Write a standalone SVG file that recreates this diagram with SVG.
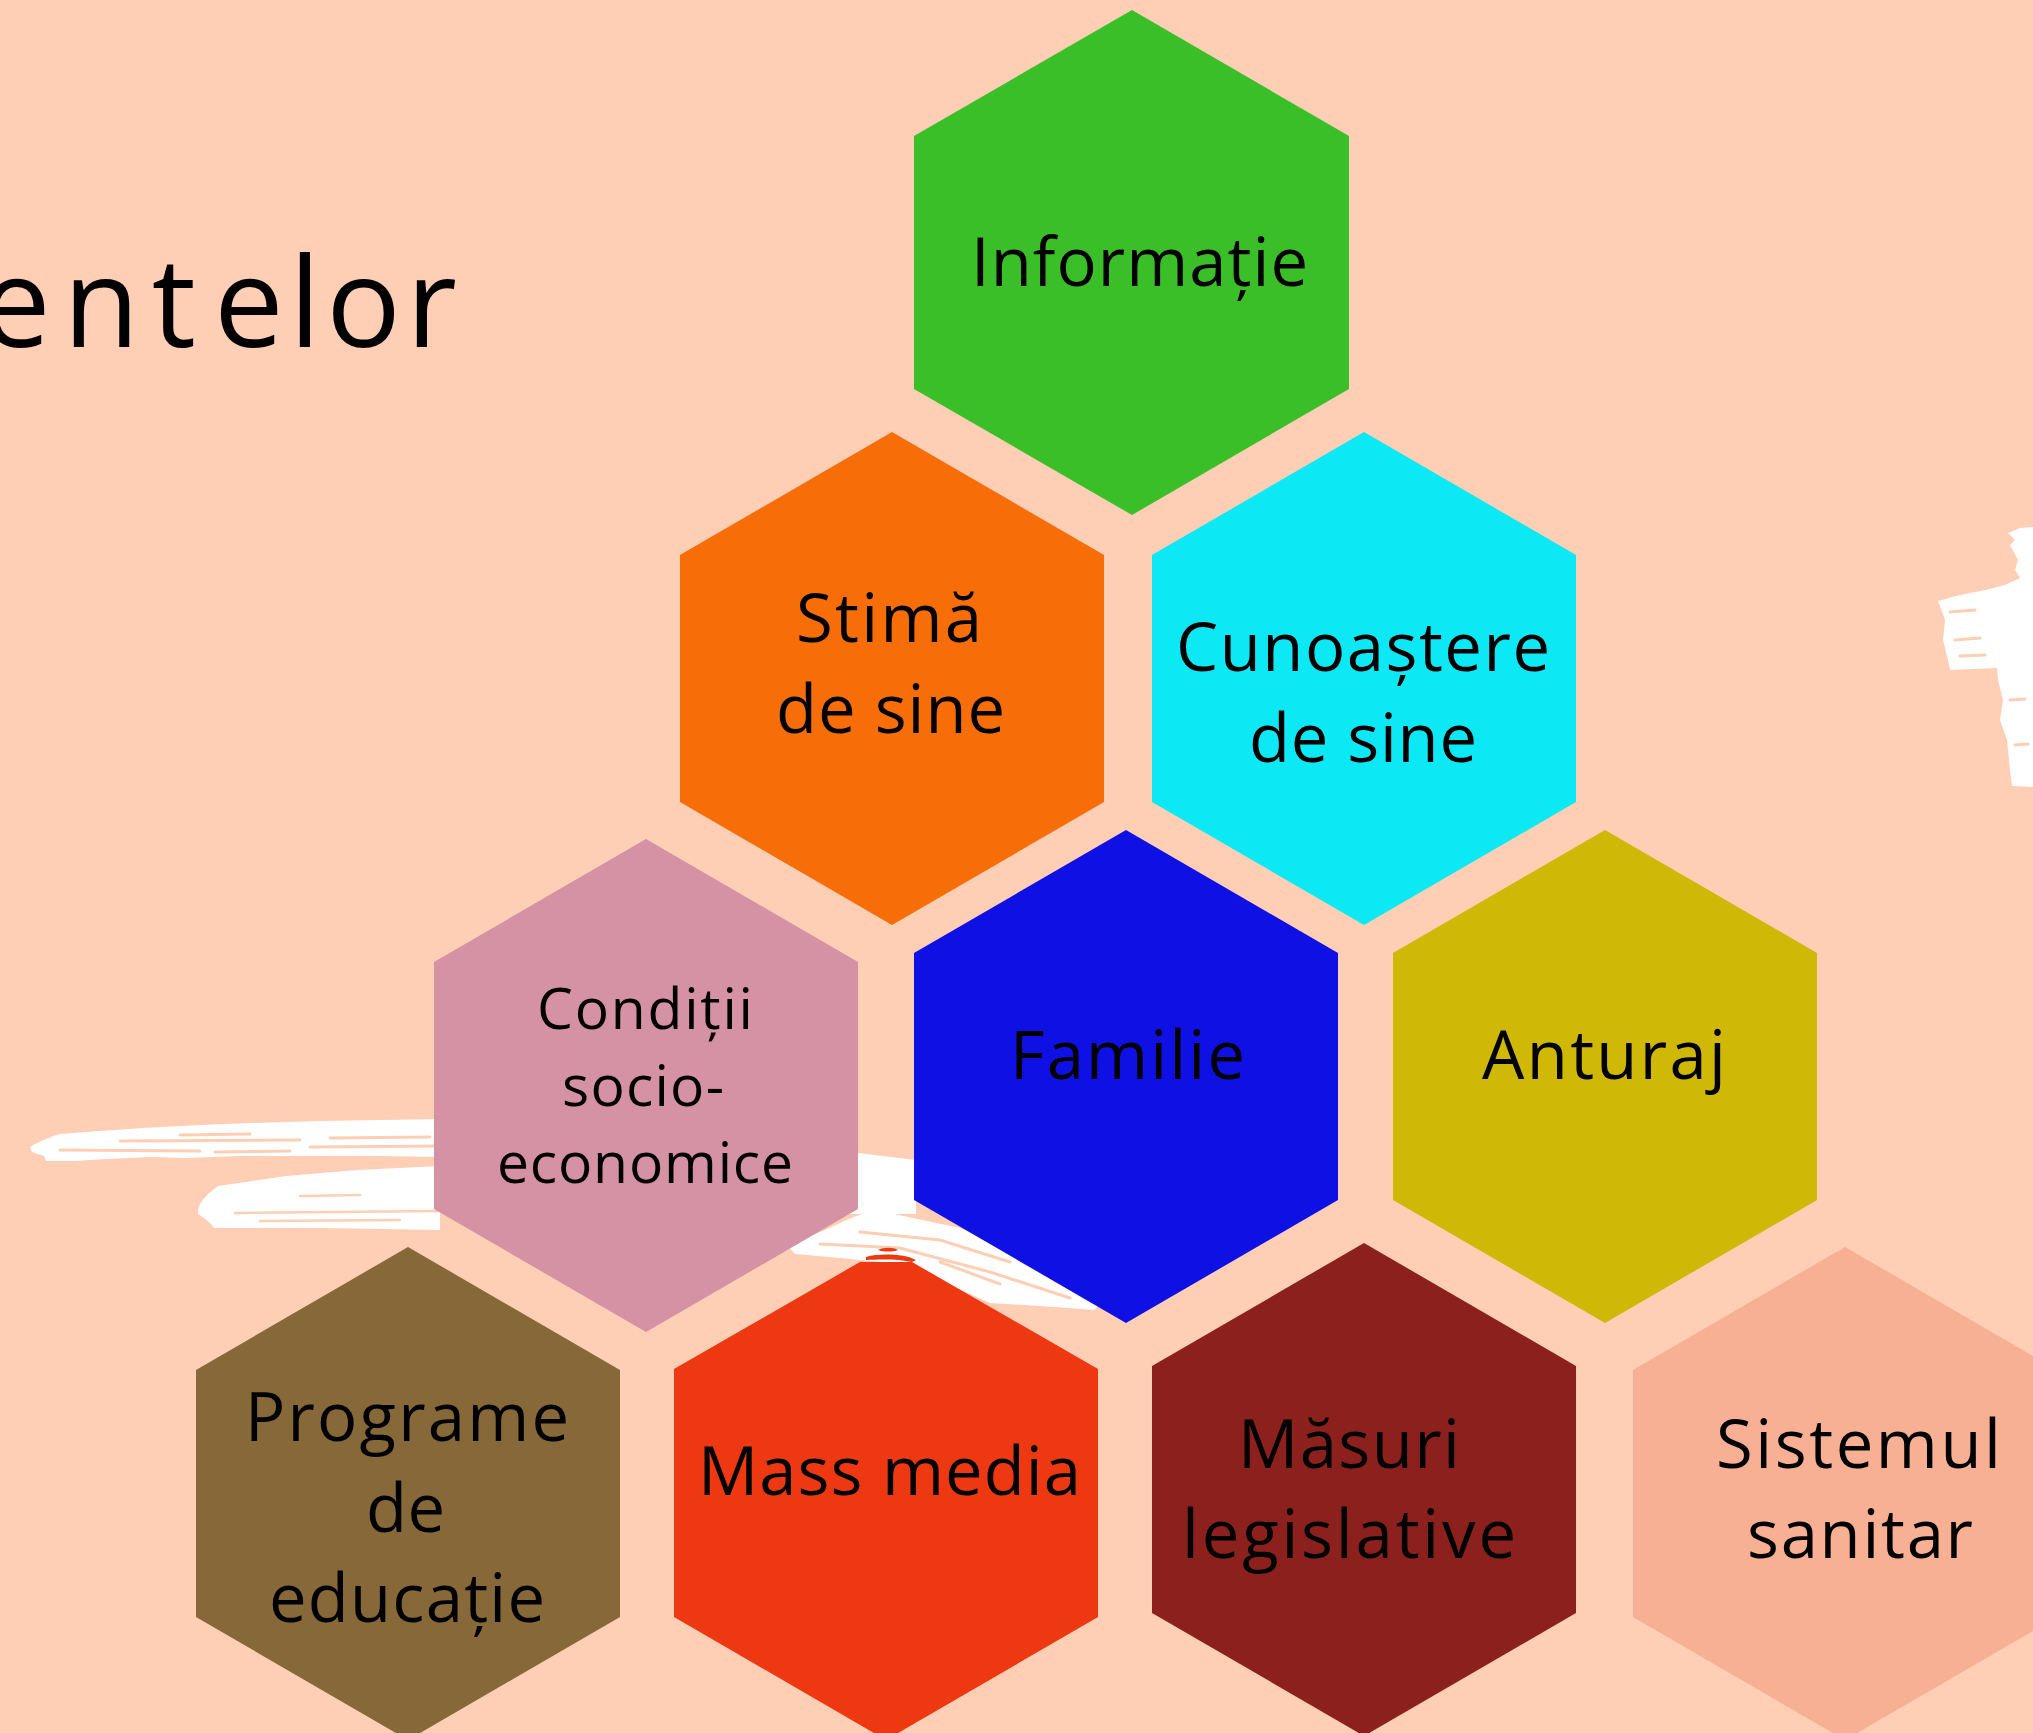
<svg xmlns="http://www.w3.org/2000/svg" width="2033" height="1733" viewBox="0 0 2033 1733">
<style>
.lbl{font-family:"Open Sans","Noto Sans","Liberation Sans",sans-serif;font-size:67px;fill:#000}
.sm{font-size:57px}
.ttl{font-family:"Open Sans","Noto Sans","Liberation Sans",sans-serif;font-size:124px;fill:#000}
.brush{fill:#fff}
.gap{stroke:#FECEB5;fill:none;stroke-linecap:round}
</style>
<rect width="2033" height="1733" fill="#FECEB5"/>
<text class="ttl" y="347"><tspan x="-19" textLength="215" lengthAdjust="spacing">ent</tspan><tspan x="214" textLength="243" lengthAdjust="spacing">elor</tspan></text>

<g id="brush-strokes">
<path class="brush" d="M30,1147 C40,1141 52,1136 60,1134 L100,1131 L143,1128 L200,1125 L250,1123 L320,1121 L380,1120 L440,1119 L440,1157 L380,1156 L296,1156 L240,1156 L186,1158 L150,1157 L107,1159 L75,1161 L46,1161 L44,1156 L32,1152 Z"/>
<path class="gap" stroke-width="3" d="M120,1141 L300,1140 M60,1150 L200,1151 M215,1152 L290,1151 M310,1147 L440,1146 M330,1138 L430,1137 M180,1135 L250,1134"/>
<path class="brush" d="M198,1210 C200,1200 210,1192 218,1186 L286,1176 L357,1170 L440,1166 L440,1230 L321,1228 L214,1228 C210,1222 204,1218 198,1214 Z"/>
<path class="gap" stroke-width="2.5" d="M235,1213 L440,1211 M260,1221 L400,1220 M300,1196 L360,1195"/>
<path class="brush" d="M850,1152 L916,1160 L916,1214 L850,1214 Z"/>
<path class="brush" d="M785,1243 C830,1234 850,1212 880,1211 L960,1228 L1010,1250 L1060,1278 L1100,1302 L1095,1310 L1040,1306 L990,1303 L950,1285 L920,1270 L880,1262 L840,1258 L795,1254 Z"/>
<path class="gap" stroke-width="3" d="M820,1244 L900,1248 L990,1272 L1070,1298 M860,1232 L940,1240 L1010,1262 M940,1262 L1000,1284"/>
<path class="brush" d="M2008,533 L2020,528 L2033,527 L2033,787 L2012,786 L2010,770 L2007,740 L2000,720 L2003,700 L1998,680 L1997,668 L1950,670 L1948,660 L1943,640 L1945,620 L1938,601 L1960,595 L1985,590 L2005,585 L2020,578 L2015,570 L2018,560 L2010,545 L2015,540 Z"/>
<path class="gap" stroke-width="3" d="M1950,612 L1975,610 M1955,640 L1980,638 M1960,656 L1985,655 M2010,700 L2025,699 M2015,745 L2028,744"/>
</g>

<g id="node-informatie">
<polygon fill="#3BBF28" points="1132,10 1349,136 1349,389 1132,515 914,389 914,136"/>
<text class="lbl" x="971" y="286" textLength="337" lengthAdjust="spacing">Informație</text>
</g>
<g id="node-stima">
<polygon fill="#F76D08" points="892,432 1104,555 1104,802 892,925 680,802 680,555"/>
<text class="lbl" x="796" y="642" textLength="186" lengthAdjust="spacing">Stimă</text>
<text class="lbl" x="776" y="733" textLength="229" lengthAdjust="spacing">de sine</text>
</g>
<g id="node-cunoastere">
<polygon fill="#0DE8F5" points="1364,432 1576,555 1576,802 1364,925 1152,802 1152,555"/>
<text class="lbl" x="1176" y="671" textLength="374" lengthAdjust="spacing">Cunoaștere</text>
<text class="lbl" x="1249" y="762" textLength="228" lengthAdjust="spacing">de sine</text>
</g>
<g id="node-conditii">
<polygon fill="#D492A4" points="646,839 858,962 858,1209 646,1332 434,1209 434,962"/>
<text class="lbl sm" x="537" y="1029" textLength="216" lengthAdjust="spacing">Condiții</text>
<text class="lbl sm" x="562" y="1106" textLength="162" lengthAdjust="spacing">socio-</text>
<text class="lbl sm" x="497" y="1183" textLength="296" lengthAdjust="spacing">economice</text>
</g>
<g id="node-familie">
<polygon fill="#0F10E3" points="1126,830 1338,953 1338,1200 1126,1323 914,1200 914,953"/>
<text class="lbl" x="1010" y="1079" textLength="235" lengthAdjust="spacing">Familie</text>
</g>
<g id="node-anturaj">
<polygon fill="#CFB906" points="1605,830 1817,953 1817,1200 1605,1323 1393,1200 1393,953"/>
<text class="lbl" x="1482" y="1079" textLength="244" lengthAdjust="spacing">Anturaj</text>
</g>
<g id="node-programe">
<polygon fill="#876838" points="408,1247 620,1370 620,1617 408,1740 196,1617 196,1370"/>
<text class="lbl" x="245" y="1441" textLength="324" lengthAdjust="spacing">Programe</text>
<text class="lbl" x="366" y="1532" textLength="79" lengthAdjust="spacing">de</text>
<text class="lbl" x="269" y="1622" textLength="276" lengthAdjust="spacing">educație</text>
</g>
<g id="node-mass-media">
<polygon fill="#EE3812" points="674,1369 860,1262 912,1262 1098,1369 1098,1617 886,1740 674,1617"/>
<path fill="#EE3812" d="M866,1257 C880,1253 905,1254 916,1260 L912,1262 C900,1259 880,1259 866,1260 Z M878,1250 C884,1247 893,1247 898,1250 C892,1252 884,1252 878,1250 Z"/>
<text class="lbl" x="698" y="1495" textLength="383" lengthAdjust="spacing">Mass media</text>
</g>
<g id="node-masuri">
<polygon fill="#8B201D" points="1364,1243 1576,1366 1576,1613 1364,1736 1152,1613 1152,1366"/>
<text class="lbl" x="1238" y="1468" textLength="222" lengthAdjust="spacing">Măsuri</text>
<text class="lbl" x="1182" y="1558" textLength="334" lengthAdjust="spacing">legislative</text>
</g>
<g id="node-sistemul">
<polygon fill="#F7B094" points="1845,1247 2057,1370 2057,1617 1845,1740 1633,1617 1633,1370"/>
<text class="lbl" x="1716" y="1468" textLength="285" lengthAdjust="spacing">Sistemul</text>
<text class="lbl" x="1747" y="1558" textLength="226" lengthAdjust="spacing">sanitar</text>
</g>
<g id="connectors"/>
</svg>
